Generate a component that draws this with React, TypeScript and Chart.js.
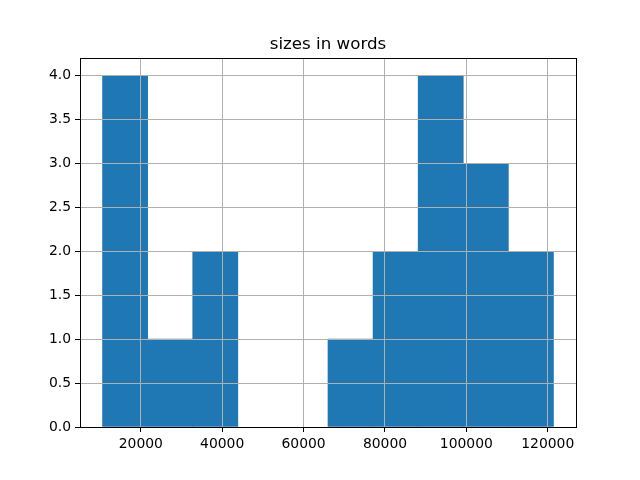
import React, { useEffect, useRef } from "react";
import { Chart, registerables } from "chart.js";

Chart.register(...registerables);

const title = "sizes in words";
const binEdges = [10600, 21680, 32760, 43840, 54920, 66000, 77080, 88160, 99240, 110320, 121400];
const counts = [4, 1, 2, 0, 0, 1, 2, 4, 3, 2];
const xTicks = [20000, 40000, 60000, 80000, 100000, 120000];
const yTicks = [0, 0.5, 1, 1.5, 2, 2.5, 3, 3.5, 4];

const FONT = "'DejaVu Sans', sans-serif";

export default function App() {
  const ref = useRef<HTMLCanvasElement | null>(null);
  useEffect(() => {
    if (!ref.current) return;
    const span = binEdges[binEdges.length - 1] - binEdges[0];
    const xMin = binEdges[0] - span * 0.05;
    const xMax = binEdges[binEdges.length - 1] + span * 0.05;
    const yMax = Math.max(...counts) * 1.05;
    const data = counts.map((c, i) => ({ x: (binEdges[i] + binEdges[i + 1]) / 2, y: c === 0 ? null : c }));

    const framePlugin = {
      id: "frame",
      afterDraw(chart: any) {
        const { ctx, chartArea: a } = chart;
        ctx.save();
        ctx.strokeStyle = "#000";
        ctx.lineWidth = 1;
        ctx.strokeRect(Math.round(a.left) + 0.5, Math.round(a.top) + 0.5, Math.round(a.right - a.left), Math.round(a.bottom - a.top));
        ctx.fillStyle = "#000";
        ctx.font = `16.7px ${FONT}`;
        ctx.textAlign = "center";
        ctx.textBaseline = "alphabetic";
        ctx.fillText(title, (a.left + a.right) / 2, 49);
        ctx.restore();
      },
    };

    const chart = new Chart(ref.current, {
      type: "bar",
      data: {
        datasets: [
          {
            data,
            backgroundColor: "#1f77b4",
            borderWidth: 0,
            barPercentage: 1,
            categoryPercentage: 1,
          },
        ],
      },
      options: {
        animation: false,
        responsive: false,
        maintainAspectRatio: false,
        layout: { padding: { top: 58, right: 64, left: 0, bottom: 0 } },
        plugins: { legend: { display: false }, tooltip: { enabled: false }, title: { display: false } },
        scales: {
          x: {
            type: "linear",
            min: xMin,
            max: xMax,
            offset: false,
            grid: { z: 1, color: "#b0b0b0", lineWidth: 1, tickColor: "#000", tickLength: 5, offset: false },
            border: { z: 2, color: "#000", width: 1 },
            ticks: {
              color: "#000",
              font: { family: FONT, size: 13.9 },
              padding: 4,
              maxRotation: 0,
              autoSkip: false,
              callback: (v: any) => String(v),
            },
            afterBuildTicks: (s: any) => {
              s.ticks = xTicks.map((v) => ({ value: v }));
            },
            afterFit: (s: any) => {
              s.height = 53;
            },
          },
          y: {
            type: "linear",
            min: 0,
            max: yMax,
            grid: { z: 1, color: "#b0b0b0", lineWidth: 1, tickColor: "#000", tickLength: 5 },
            border: { z: 2, color: "#000", width: 1 },
            ticks: {
              color: "#000",
              font: { family: FONT, size: 13.9 },
              padding: 4,
              autoSkip: false,
              callback: (v: any) => Number(v).toFixed(1),
            },
            afterBuildTicks: (s: any) => {
              s.ticks = yTicks.map((v) => ({ value: v }));
            },
            afterFit: (s: any) => {
              s.width = 80;
            },
          },
        },
      } as any,
      plugins: [framePlugin],
    });
    return () => chart.destroy();
  }, []);

  return (
    <div style={{ position: "absolute", left: 0, top: 0, width: 640, height: 480, background: "#fff" }}>
      <canvas ref={ref} width={640} height={480} style={{ width: 640, height: 480 }} />
    </div>
  );
}
